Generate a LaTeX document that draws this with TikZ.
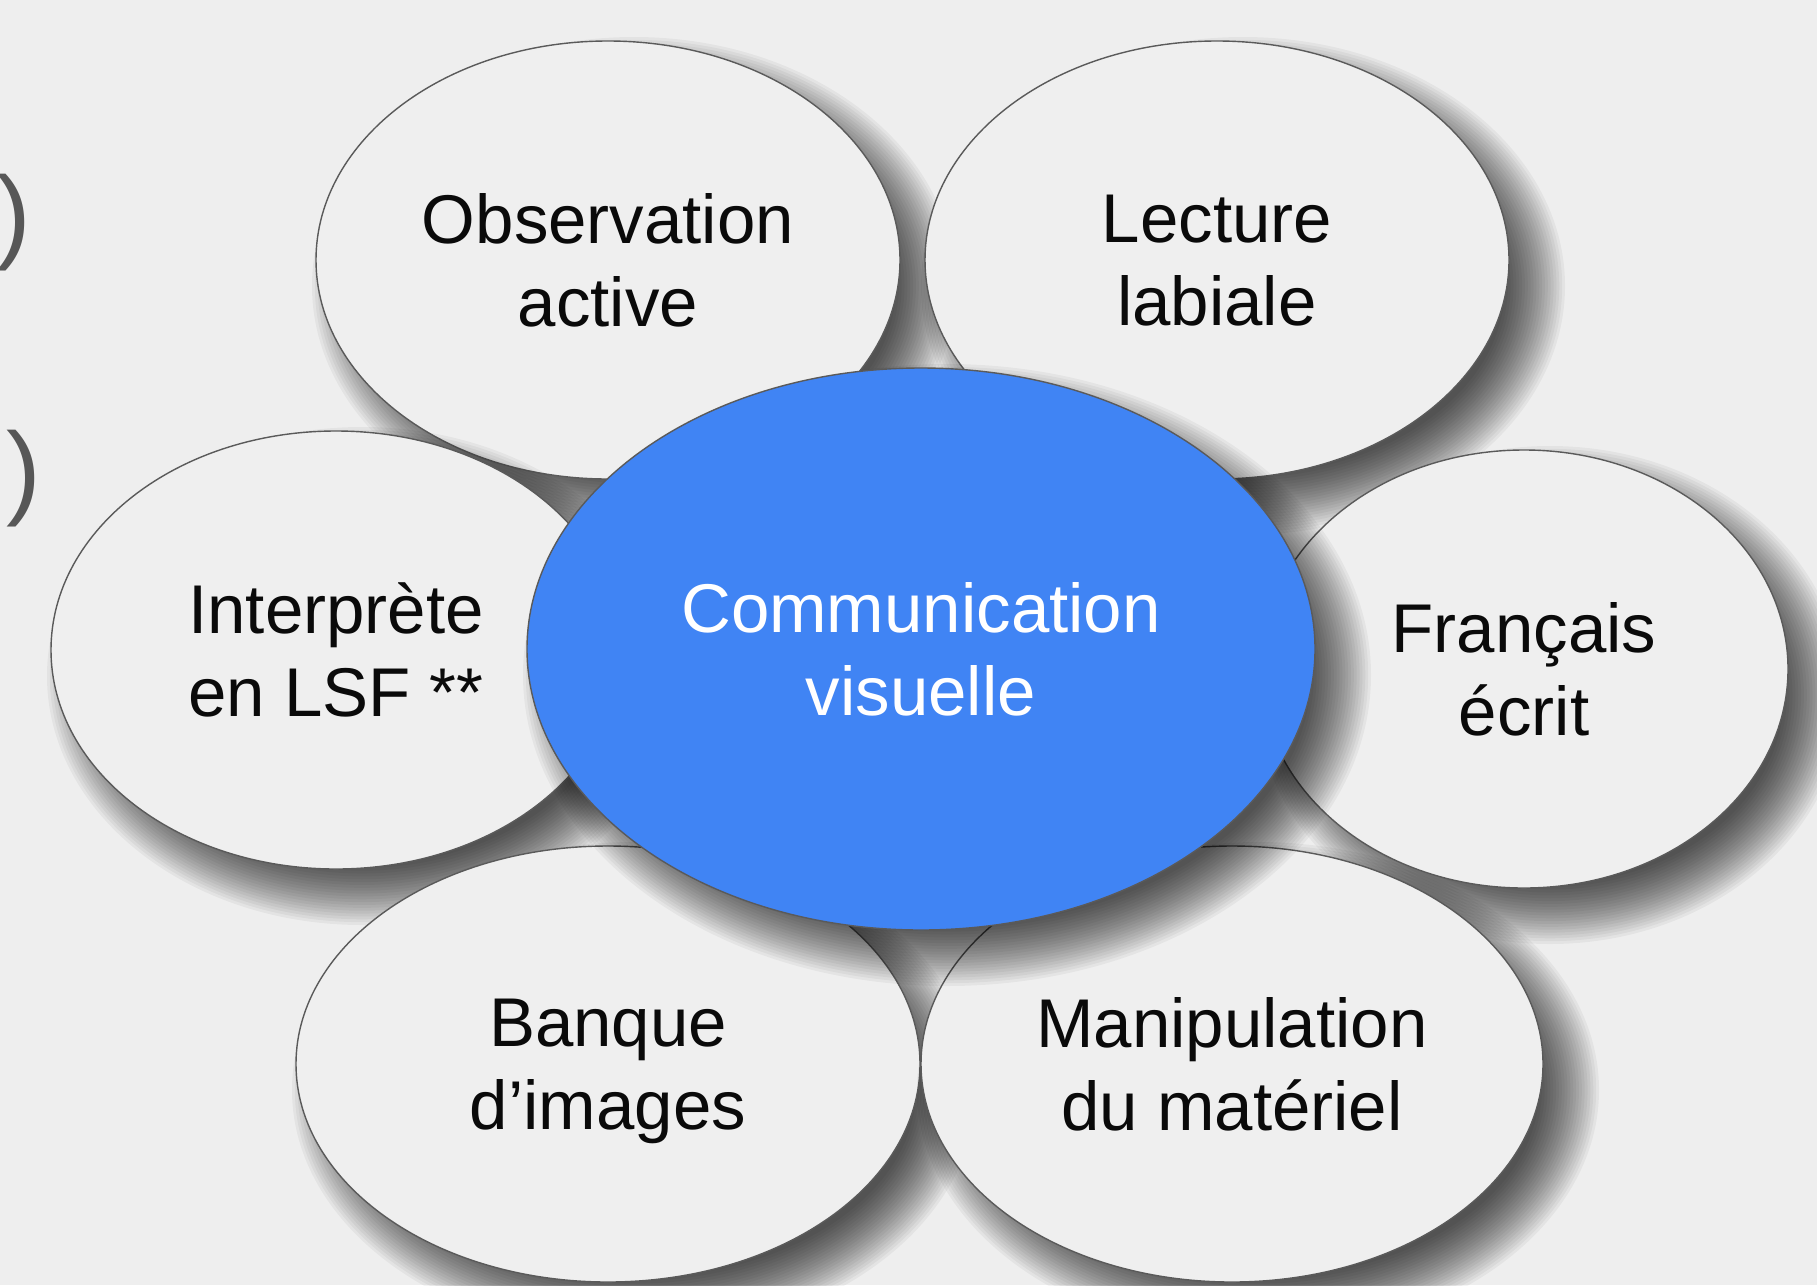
\documentclass[tikz,border=0pt]{standalone}
\usepackage{fontspec}
\setmainfont{Liberation Sans}
\usetikzlibrary{shapes.geometric}
\definecolor{bgc}{HTML}{EEEEEE}
\definecolor{ellc}{HTML}{EFEFEF}
\definecolor{edgec}{HTML}{5A5A5A}
\definecolor{bluec}{HTML}{4084F4}
\definecolor{txtc}{HTML}{0A0A0A}
\definecolor{parc}{HTML}{575757}
\newcommand\softshade[4]{%
  \foreach \k in {0,...,21}{%
    \pgfmathsetmacro\rxk{#3+30-\k*2.86}%
    \pgfmathsetmacro\ryk{#4+30-\k*2.86}%
    \fill[black, opacity=0.042] ({#1+26},{#2+26}) ellipse [x radius=\rxk pt, y radius=\ryk pt];
  }}
\begin{document}
\begin{tikzpicture}[x=1pt,y=-1pt,
  bubble/.style={ellipse, draw=edgec, line width=1.4pt, fill=ellc, inner sep=0pt,
    align=center, text=txtc, font=\fontsize{69}{83}\selectfont, text depth=0pt},
  hub/.style={bubble, fill=bluec, text=white},
  paren/.style={inner sep=0pt, text=parc, font=\fontsize{104}{110}\selectfont}]
\fill[bgc] (0,0) rectangle (1817,1285);
\useasboundingbox (0,0) rectangle (1817,1285);
\node[paren] (p1) at (14,223) {)};
\node[paren] (p2) at (24,479) {)};
\softshade{608}{260}{292}{219}
\node[bubble, minimum width=584pt, minimum height=438pt] (obs) at (608,260) {Observation\\active};
\softshade{1217}{260}{292}{219}
\node[bubble, minimum width=584pt, minimum height=438pt] (lec) at (1217,260) {Lecture\\labiale};
\softshade{336}{650}{285}{219}
\node[bubble, minimum width=570pt, minimum height=438pt] (lsf) at (336,650) {Interprète\\en LSF **};
\softshade{1524}{669}{264}{219}
\node[bubble, minimum width=528pt, minimum height=438pt] (fra) at (1524,669) {Français\\écrit};
\softshade{608}{1064}{312}{218}
\node[bubble, minimum width=624pt, minimum height=436pt] (ban) at (608,1064) {Banque\\d’images};
\softshade{1232}{1064}{311}{218}
\node[bubble, minimum width=622pt, minimum height=436pt] (man) at (1232,1064) {Manipulation\\du matériel};
\softshade{921}{649}{394}{281}
\node[hub, minimum width=788pt, minimum height=562pt] (com) at (921,649) {Communication\\visuelle};
\end{tikzpicture}
\end{document}
